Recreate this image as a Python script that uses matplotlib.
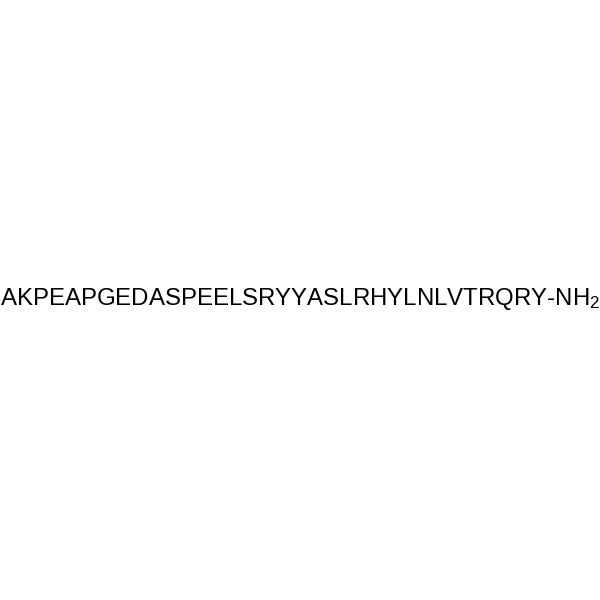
import matplotlib
matplotlib.use("Agg")
import matplotlib.pyplot as plt

# peptide sequence and C-terminal group
sequence = "AKPEAPGEDASPEELSRYYASLRHYLNLVTRQRY"
terminal = "-NH"
subscript = "2"

plt.rcParams['font.family'] = ['Liberation Sans', 'DejaVu Sans']
plt.rcParams['mathtext.fontset'] = 'custom'
plt.rcParams['mathtext.rm'] = 'Liberation Sans'
plt.rcParams['mathtext.it'] = 'Liberation Sans'
plt.rcParams['mathtext.default'] = 'rm'

fig = plt.figure(figsize=(6, 6), dpi=100)
ax = fig.add_axes([0, 0, 1, 1])
ax.set_axis_off()
ax.set_xlim(0, 1)
ax.set_ylim(0, 1)

label = sequence + terminal + "$_{" + subscript + "}$"
ax.text(0.5, 1 - 305 / 600, label, ha='center', va='baseline',
        fontsize=17.3, color='black')

fig.savefig("out.png", dpi=100, facecolor='white')
